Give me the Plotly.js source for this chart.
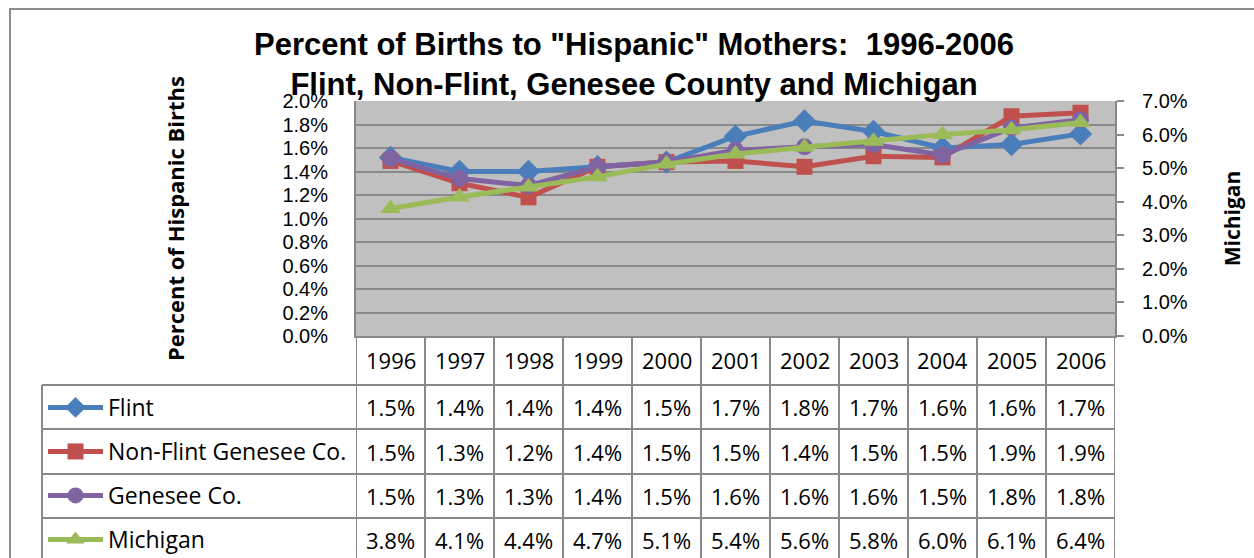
<!DOCTYPE html>
<html>
<head>
<meta charset="utf-8">
<script src="https://cdn.plot.ly/plotly-3.0.1.min.js"></script>
<style>
html, body { margin: 0; padding: 0; background: #ffffff; }
#chart { width: 1254px; height: 558px; }
</style>
</head>
<body>
<div id="chart"></div>
<script>
// ---- data (percent) ----
const years = ['1996','1997','1998','1999','2000','2001','2002','2003','2004','2005','2006'];
const flint    = [1.52, 1.40, 1.40, 1.44, 1.48, 1.70, 1.83, 1.74, 1.60, 1.63, 1.72];
const nonFlint = [1.49, 1.30, 1.18, 1.44, 1.48, 1.49, 1.44, 1.53, 1.52, 1.87, 1.90];
const genesee  = [1.51, 1.34, 1.28, 1.44, 1.48, 1.58, 1.61, 1.63, 1.54, 1.77, 1.84];
const michigan = [3.80, 4.14, 4.44, 4.74, 5.12, 5.42, 5.62, 5.80, 6.00, 6.14, 6.36];
const seriesNames = ['Flint', 'Non-Flint Genesee Co.', 'Genesee Co.', 'Michigan'];
const leftTitle = 'Percent of Hispanic Births';
const rightTitle = 'Michigan';
const chartTitle = 'Percent of Births to "Hispanic" Mothers:\u00a0 1996-2006<br>Flint, Non-Flint, Genesee County and Michigan';

// ---- geometry helpers (layout only) ----
const W = 1254, H = 558;
const PL = 356, PR = 1115, PT = 101, PB = 336;
const px = v => (v - PL) / (PR - PL);      // pixel x -> paper x
const py = v => (PB - v) / (PB - PT);      // pixel y -> paper y

const gridCol = '#898989';
const textFont = '"Open Sans", Lato, sans-serif';
const tickFont = '"Liberation Sans", Arial, sans-serif';

const colors = ['#4a7ebb', '#c0504d', '#8064a2', '#9bbb59'];
const symbols = ['diamond', 'square', 'circle', 'triangle-up'];
const sizes = [18, 16, 17, 18];
const seriesData = [flint, nonFlint, genesee, michigan];

const traces = seriesData.map((vals, i) => ({
  type: 'scatter',
  mode: 'lines+markers',
  x: years,
  y: vals,
  name: seriesNames[i],
  yaxis: i === 3 ? 'y2' : 'y',
  legendgroup: 'g' + i,
  line: { color: colors[i], width: 5 },
  marker: { symbol: symbols[i], size: sizes[i], color: colors[i] },
  hoverinfo: 'skip'
}));

// ---- table (years row + values), placed on the category axis by index ----
const rowCenters = [360, 407, 451.5, 496, 540];
const rowLines = [385, 429, 474, 518];
const annotations = [];
years.forEach((yr, j) => {
  annotations.push({
    x: j, xref: 'x', y: py(rowCenters[0]), yref: 'paper',
    text: yr, showarrow: false, xanchor: 'center', yanchor: 'middle',
    font: { family: textFont, size: 22, color: '#000' }
  });
});
seriesData.forEach((vals, i) => {
  vals.forEach((v, j) => {
    annotations.push({
      x: j, xref: 'x', y: py(rowCenters[i + 1]), yref: 'paper',
      text: v.toFixed(1) + '%', showarrow: false, xanchor: 'center', yanchor: 'middle',
      font: { family: textFont, size: 22, color: '#000' }
    });
  });
});

const shapes = [];
// outer chart border
shapes.push({ type: 'rect', xref: 'paper', yref: 'paper',
  x0: px(10), x1: px(W + 20), y0: py(9), y1: py(H + 20),
  line: { color: '#8c8c8c', width: 2 }, fillcolor: 'rgba(0,0,0,0)', layer: 'below' });
// vertical column lines at category boundaries
for (let i = 0; i <= years.length; i++) {
  shapes.push({ type: 'line', xref: 'x', yref: 'paper',
    x0: i - 0.5, x1: i - 0.5, y0: py(PB), y1: py(H + 20),
    line: { color: gridCol, width: 2 } });
}
// legend column left border
shapes.push({ type: 'line', xref: 'paper', yref: 'paper',
  x0: px(42), x1: px(42), y0: py(rowLines[0]), y1: py(H + 20),
  line: { color: gridCol, width: 2 } });
// horizontal row lines
rowLines.forEach(r => {
  shapes.push({ type: 'line', xref: 'paper', yref: 'paper',
    x0: px(42), x1: 1, y0: py(r), y1: py(r),
    line: { color: gridCol, width: 2 } });
});

const layout = {
  width: W, height: H,
  margin: { l: PL, r: W - PR, t: PT, b: H - PB, pad: 0, autoexpand: false },
  paper_bgcolor: '#ffffff',
  plot_bgcolor: '#c0c0c0',
  showlegend: true,
  title: {
    text: chartTitle,
    font: { family: '"Liberation Sans", Arial, sans-serif', size: 31, color: '#000', weight: 'bold' },
    xref: 'container', yref: 'container',
    x: 634 / W, xanchor: 'center',
    y: 1 - 55 / H, yanchor: 'middle'
  },
  xaxis: {
    type: 'category',
    range: [-0.5, years.length - 0.5],
    showticklabels: false,
    ticks: '',
    showgrid: false,
    zeroline: false,
    showline: true, linecolor: gridCol, linewidth: 2
  },
  yaxis: {
    range: [0, 2.0], dtick: 0.2, tick0: 0,
    tickformat: '.1f', ticksuffix: '%',
    tickfont: { family: tickFont, size: 20, color: '#000' },
    ticks: '', ticklabelstandoff: 22,
    showgrid: true, gridcolor: gridCol, gridwidth: 2,
    zeroline: false,
    showline: true, linecolor: gridCol, linewidth: 2,
    title: { text: leftTitle, standoff: 92,
      font: { family: textFont, size: 22, color: '#000', weight: 'bold' } }
  },
  yaxis2: {
    overlaying: 'y', side: 'right',
    range: [0, 7], dtick: 1, tick0: 0,
    tickformat: '.1f', ticksuffix: '%',
    tickfont: { family: tickFont, size: 20, color: '#000' },
    ticks: 'outside', ticklen: 7, tickwidth: 2, tickcolor: gridCol,
    ticklabelstandoff: 14,
    showgrid: false, zeroline: false,
    showline: true, linecolor: gridCol, linewidth: 2,
    title: { text: rightTitle, standoff: 38,
      font: { family: textFont, size: 21, color: '#000', weight: 'bold' } }
  },
  legend: {
    x: px(43), xanchor: 'left',
    y: py(386), yanchor: 'top',
    xref: 'paper', yref: 'paper',
    bgcolor: 'rgba(0,0,0,0)',
    borderwidth: 0,
    font: { family: textFont, size: 23, color: '#000' },
    traceorder: 'grouped',
    tracegroupgap: 11.1,
    itemwidth: 55,
    itemclick: false, itemdoubleclick: false
  },
  annotations: annotations,
  shapes: shapes
};

Plotly.newPlot('chart', traces, layout, { displayModeBar: false, staticPlot: true });
</script>
</body>
</html>
